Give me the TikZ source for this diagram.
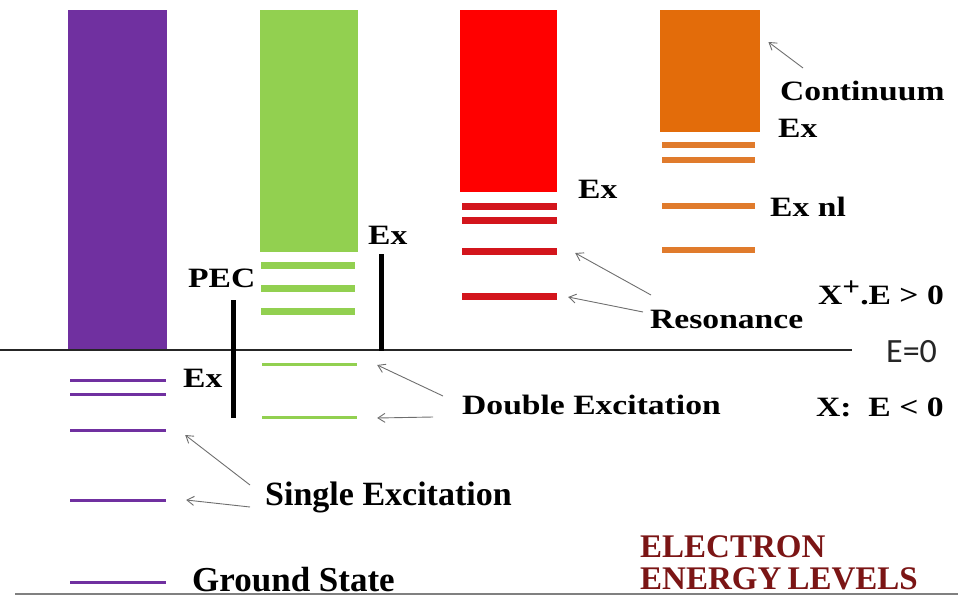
\documentclass[tikz,border=0pt]{standalone}
\usepackage{fontspec}
\setmainfont{Liberation Serif}
\newfontfamily\widefont{Liberation Serif}[FakeStretch=1.2]
\newfontfamily\zerofont{Carlito}
\usepackage{xcolor}
\usepackage{tikz}
\usetikzlibrary{positioning,arrows.meta,calc}
\definecolor{vio}{HTML}{7030A0}
\definecolor{leaf}{HTML}{92D050}
\definecolor{hot}{HTML}{FF0000}
\definecolor{hotlvl}{HTML}{D3151C}
\definecolor{amber}{HTML}{E36C0A}
\definecolor{amberlvl}{HTML}{E07B2C}
\definecolor{wine}{HTML}{7B1515}
\definecolor{pointer}{HTML}{6E6E6E}

\tikzset{
  band/.style={draw=none, inner sep=0pt, anchor=north west},
  lvl/.style={draw=none, inner sep=0pt, minimum height=#1},
  lbl/.style={inner sep=0pt, anchor=base west, font=\widefont\bfseries\fontsize{28}{30}\selectfont},
  tag/.style={inner sep=0pt, anchor=base west, font=\bfseries\fontsize{34}{36}\selectfont},
  gauge/.style={line width=5pt, black},
  arr/.style={draw=pointer, line width=0.9pt, -{Straight Barb[length=7pt,width=9pt]}}
}

\begin{document}
\begin{tikzpicture}[x=1pt, y=-1pt]
  \useasboundingbox (0,0) rectangle (958,597);

  % continua
  \node[band, fill=vio,   minimum width=99pt,  minimum height=340pt] (bandA) at (68,10) {};
  \node[band, fill=leaf,  minimum width=98pt,  minimum height=242pt] (bandB) at (260,10) {};
  \node[band, fill=hot,   minimum width=97pt,  minimum height=182pt] (bandC) at (460,10) {};
  \node[band, fill=amber, minimum width=100pt, minimum height=122pt] (bandD) at (660,10) {};

  % discrete levels
  \foreach \y [count=\i] in {380,394,430,500,582}
    \node[lvl=3pt, fill=vio, minimum width=96pt] (v\i) at (118,\y) {};
  \foreach \y [count=\i] in {265,288,311}
    \node[lvl=7pt, fill=leaf, minimum width=94pt] (g\i) at (308,\y) {};
  \foreach \y [count=\i from 4] in {364,417}
    \node[lvl=3pt, fill=leaf, minimum width=95pt] (g\i) at (309.5,\y) {};
  \foreach \y [count=\i] in {206,220,251,296}
    \node[lvl=7pt, fill=hotlvl, minimum width=95pt] (r\i) at (509.5,\y) {};
  \foreach \y [count=\i] in {145,160,206,250}
    \node[lvl=6pt, fill=amberlvl, minimum width=93pt] (o\i) at (708.5,\y) {};

  % zero line and base line
  \coordinate (zeroL) at (0,350);
  \coordinate (zeroR) at (852,350);
  \draw[line width=1.5pt, black!85] (zeroL) -- (zeroR);
  \draw[line width=1.5pt, gray] (15,594) -- (958,594);

  % PEC and Ex gauges
  \draw[gauge] (233,300) -- (233,418);
  \draw[gauge] (381,254) -- (381,351);

  % labels
  \node[lbl] (lblCont) at (780,100) {Continuum};
  \node[lbl] (lblExD) at (778,137) {Ex};
  \node[lbl] (lblExNl) at (770,216) {Ex nl};
  \node[lbl] (lblExC) at (578,198) {Ex};
  \node[lbl] (lblExB) at (368,244) {Ex};
  \node[lbl] (lblPEC) at (188,287) {PEC};
  \node[lbl] (lblPos) at (818,304) {X\raisebox{9pt}{\fontsize{26}{26}\selectfont +}.E > 0};
  \node[lbl] (lblReso) at (650,328) {Resonance};
  \node[inner sep=0pt, anchor=base west, text=black!85, font=\zerofont\fontsize{34}{36}\selectfont] (lblZero) at (886,362) {E=0};
  \node[lbl] (lblExA) at (183,387) {Ex};
  \node[lbl] (lblDouble) at (462,414) {Double Excitation};
  \node[lbl] (lblNeg) at (816,416) {X:\ \ E < 0};
  \node[tag] (lblSingle) at (265,505) {Single Excitation};
  \node[tag, font=\bfseries\fontsize{35}{37}\selectfont] (lblGround) at (192,591) {Ground State};
  \node[tag, text=wine, font=\bfseries\fontsize{33}{35}\selectfont] (title1) at (640,557) {ELECTRON};
  \node[tag, text=wine, font=\bfseries\fontsize{33}{35}\selectfont] (title2) at (640,589) {ENERGY\hspace{-2pt} LEVELS};

  % pointers
  \coordinate (tCont) at (803,68);
  \coordinate (tReso1) at (651,295);
  \coordinate (tReso2) at (643,312);
  \coordinate (tDouble1) at (443,396);
  \coordinate (tDouble2) at (433,417);
  \coordinate (tSingle1) at (250,485);
  \coordinate (tSingle2) at (250,507);
  \draw[arr] (tCont) -- ([shift={(8,32)}]bandD.north east);
  \draw[arr] (tReso1) -- ([shift={(18,2)}]r3.east);
  \draw[arr] (tReso2) -- ([shift={(11,1)}]r4.east);
  \draw[arr] (tDouble1) -- ([shift={(20,1)}]g4.east);
  \draw[arr] (tDouble2) -- ([shift={(20,1)}]g5.east);
  \draw[arr] (tSingle1) -- ([shift={(19,5)}]v3.east);
  \draw[arr] (tSingle2) -- ([shift={(20,0)}]v4.east);
\end{tikzpicture}
\end{document}
